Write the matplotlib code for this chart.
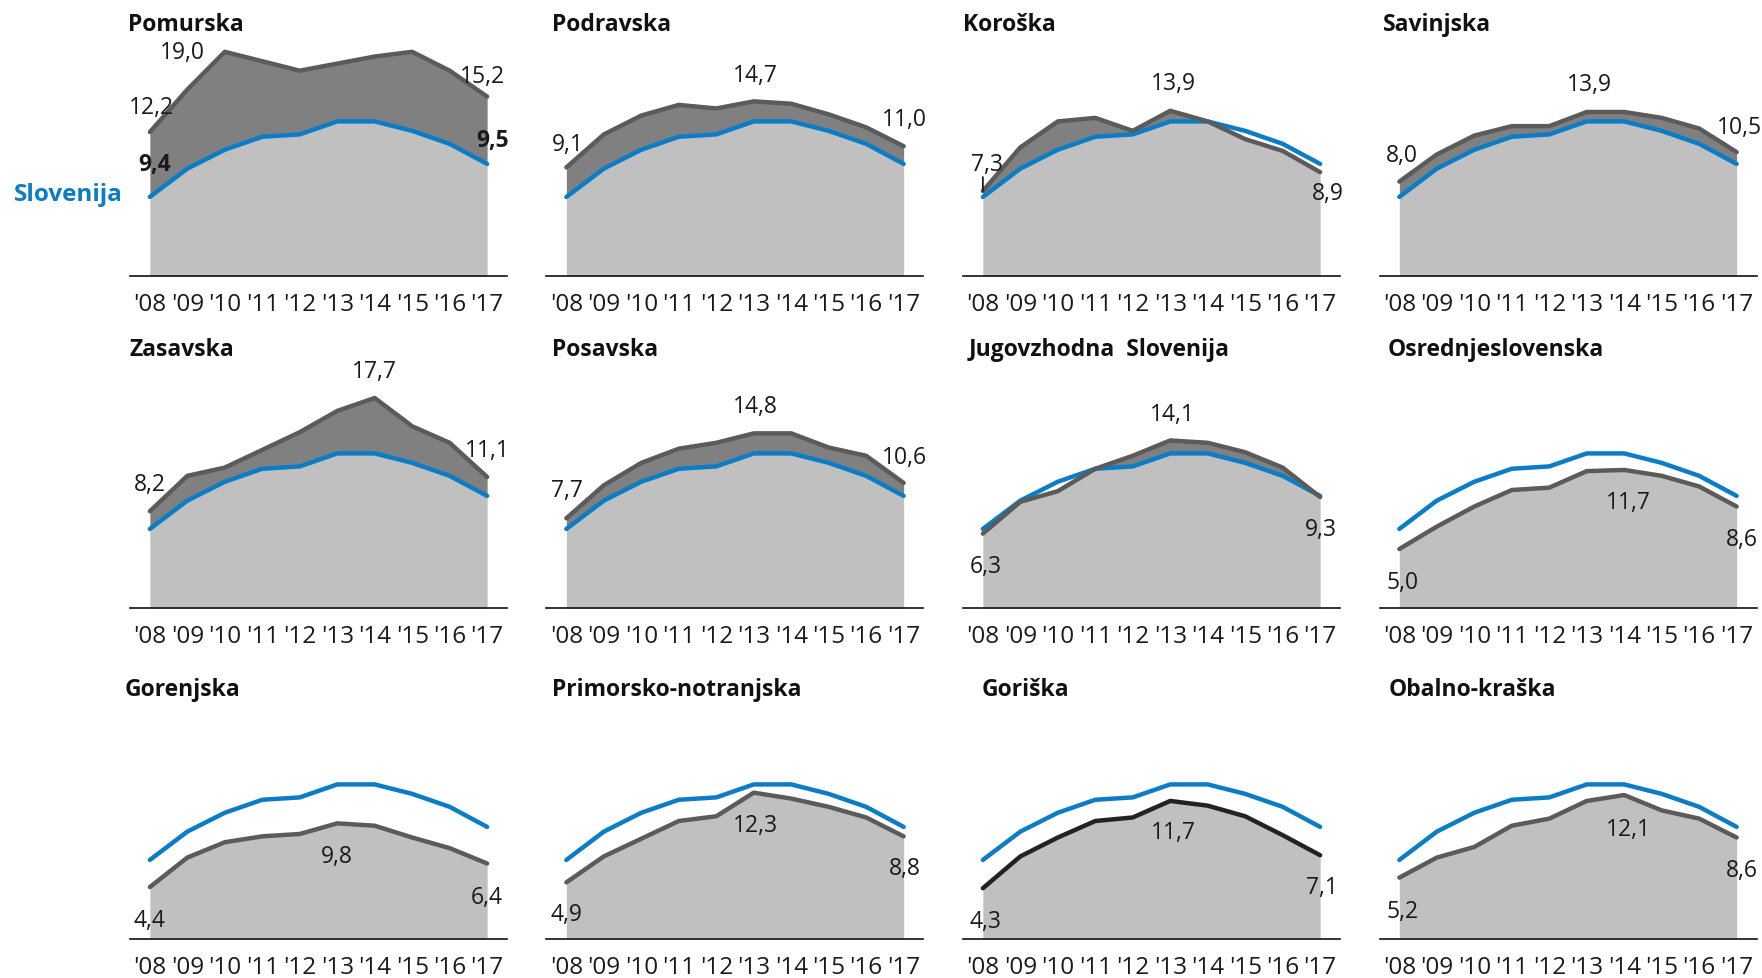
import matplotlib
matplotlib.use('Agg')
from matplotlib import pyplot as plt
import numpy as np

# --- data (registered unemployment rate, %) ---
years = np.arange(2008, 2018)
year_labels = ["'08", "'09", "'10", "'11", "'12", "'13", "'14", "'15", "'16", "'17"]

slovenija = [6.7, 9.1, 10.7, 11.8, 12.0, 13.1, 13.1, 12.3, 11.2, 9.5]
slovenija_labels = ['9,4', '9,5']

regions = ['Pomurska', 'Podravska', 'Koroška', 'Savinjska',
           'Zasavska', 'Posavska', 'Jugovzhodna  Slovenija', 'Osrednjeslovenska',
           'Gorenjska', 'Primorsko-notranjska', 'Goriška', 'Obalno-kraška']

pomurska = [12.2, 15.8, 19.0, 18.2, 17.4, 18.0, 18.6, 19.0, 17.4, 15.2]
podravska = [9.2, 12.0, 13.6, 14.5, 14.2, 14.8, 14.6, 13.7, 12.6, 11.0]
koroska = [7.2, 10.9, 13.1, 13.4, 12.3, 14.0, 13.1, 11.6, 10.6, 8.8]
savinjska = [8.0, 10.3, 11.9, 12.7, 12.7, 13.9, 13.9, 13.4, 12.5, 10.5]
zasavska = [8.2, 11.2, 11.9, 13.4, 14.9, 16.7, 17.8, 15.4, 14.0, 11.1]
posavska = [7.6, 10.4, 12.3, 13.5, 14.0, 14.8, 14.8, 13.6, 12.9, 10.6]
jugovzhodna = [6.3, 9.0, 9.9, 11.8, 12.9, 14.2, 14.0, 13.2, 11.9, 9.4]
osrednjeslovenska = [5.0, 6.9, 8.6, 10.0, 10.2, 11.6, 11.7, 11.2, 10.3, 8.6]
gorenjska = [4.4, 6.9, 8.2, 8.7, 8.9, 9.8, 9.6, 8.6, 7.7, 6.4]
primorsko = [4.8, 7.0, 8.5, 10.0, 10.4, 12.4, 11.9, 11.2, 10.3, 8.7]
goriska = [4.3, 7.0, 8.6, 10.0, 10.3, 11.7, 11.3, 10.4, 8.8, 7.1]
obalno = [5.2, 6.9, 7.8, 9.6, 10.2, 11.7, 12.2, 10.9, 10.2, 8.6]

series = [pomurska, podravska, koroska, savinjska,
          zasavska, posavska, jugovzhodna, osrednjeslovenska,
          gorenjska, primorsko, goriska, obalno]

start_labels = ['12,2', '9,1', '7,3', '8,0', '8,2', '7,7', '6,3', '5,0', '4,4', '4,9', '4,3', '5,2']
peak_labels = ['19,0', '14,7', '13,9', '13,9', '17,7', '14,8', '14,1', '11,7', '9,8', '12,3', '11,7', '12,1']
peak_years = [2010, 2013, 2013, 2013, 2014, 2013, 2013, 2014, 2013, 2013, 2013, 2014]
end_labels = ['15,2', '11,0', '8,9', '10,5', '11,1', '10,6', '9,3', '8,6', '6,4', '8,8', '7,1', '8,6']

# --- layout (pixels) ---
W, H = 1762, 979
col_left = 130
col_step = 416.5
ax_w = 377
baselines = [277, 609, 940]
px_per_unit = 11.8
ymax = 20
title_y = [25, 350, 690]
title_dx = [-2, 5, 0, 3, -1, 6, 6, 8, -5, 5, 19, 9]

# label offsets in pixels (start, peak, end)
offsets = [
    [(2, 25), (-42, 0), (-5, 21)],
    [(1, 23), (2, 26), (1, 27)],
    [(4, 27), (3, 28), (8, -21)],
    [(3, 27), (3, 28), (3, 25)],
    [(0, 27), (0, 27), (0, 27)],
    [(1, 28), (2, 27), (1, 26)],
    [(3, -32), (2, 26), (1, -32)],
    [(3, -33), (4, -32), (5, -32)],
    [(0, -33), (0, -33), (0, -34)],
    [(0, -32), (2, -32), (1, -32)],
    [(3, -33), (3, -31), (2, -32)],
    [(3, -33), (4, -34), (5, -32)],
]

BLUE = '#0a7dc6'
DARK_FILL = '#808080'
LIGHT_FILL = '#c0c0c0'
LINE = '#5b5b5b'
TEXT = '#1a1a1a'

plt.rcParams['font.family'] = ['Open Sans', 'DejaVu Sans']

fig = plt.figure(figsize=(W / 100, H / 100), dpi=100)
fig.patch.set_facecolor('white')

slo = np.array(slovenija)

for i in range(12):
    r, c = divmod(i, 4)
    left = col_left + col_step * c
    base = baselines[r]
    h = ymax * px_per_unit
    ax = fig.add_axes([left / W, 1 - base / H, ax_w / W, h / H])
    ax.set_xlim(2007.47, 2017.53)
    ax.set_ylim(0, ymax)
    for s in ['top', 'right', 'left']:
        ax.spines[s].set_visible(False)
    ax.spines['bottom'].set_linewidth(1.2)
    ax.spines['bottom'].set_color('#111111')
    ax.set_yticks([])
    ax.set_xticks(years)
    ax.set_xticklabels(year_labels)
    ax.tick_params(axis='x', length=0, pad=11.5, labelsize=17.5, labelcolor=TEXT)
    ax.patch.set_alpha(0)

    reg = np.array(series[i])
    low = np.minimum(reg, slo)
    ax.fill_between(years, 0, low, color=LIGHT_FILL, lw=0, zorder=1)
    ax.fill_between(years, slo, reg, where=reg > slo, interpolate=True,
                    color=DARK_FILL, lw=0, zorder=1)
    ax.plot(years, slo, color=BLUE, lw=3.2, solid_capstyle='round',
            solid_joinstyle='round', zorder=3)
    line_color = '#222222' if regions[i] == 'Goriška' else LINE
    ax.plot(years, reg, color=line_color, lw=3.2, solid_capstyle='round',
            solid_joinstyle='round', zorder=4)

    # value labels
    pk = list(years).index(peak_years[i])
    pts = [(years[0], reg[0], start_labels[i]),
           (years[pk], reg[pk], peak_labels[i]),
           (years[-1], reg[-1], end_labels[i])]
    for (x, y, s), (dx, dy) in zip(pts, offsets[i]):
        ax.annotate(s, (x, y), xytext=(dx, dy), textcoords='offset pixels',
                    ha='center', va='center', fontsize=16.5, color=TEXT,
                    annotation_clip=False, zorder=6)

    # small leader under the Koroška start label
    if regions[i] == 'Koroška':
        ax.annotate('', (years[0], reg[0]), xytext=(0, 14),
                    textcoords='offset pixels',
                    arrowprops=dict(arrowstyle='-', color=TEXT, lw=1.3,
                                    shrinkA=0, shrinkB=0), zorder=6)

    if i == 0:
        ax.annotate(slovenija_labels[0], (years[0], slo[0]), xytext=(5, 33),
                    textcoords='offset pixels', ha='center', va='center',
                    fontsize=16.5, fontweight='bold', color=TEXT, zorder=6)
        ax.annotate(slovenija_labels[1], (years[-1], slo[-1]), xytext=(5, 24),
                    textcoords='offset pixels', ha='center', va='center',
                    fontsize=16.5, fontweight='bold', color=TEXT, zorder=6,
                    annotation_clip=False)

    fig.text((left + title_dx[i]) / W, 1 - title_y[r] / H, regions[i],
             ha='left', va='center', fontsize=16.5, fontweight='bold', color='#111111')

fig.text(14 / W, 1 - 195 / H, 'Slovenija', ha='left', va='center',
         fontsize=17.5, fontweight='bold', color=BLUE)

fig.savefig('out.png', dpi=100, facecolor='white')
